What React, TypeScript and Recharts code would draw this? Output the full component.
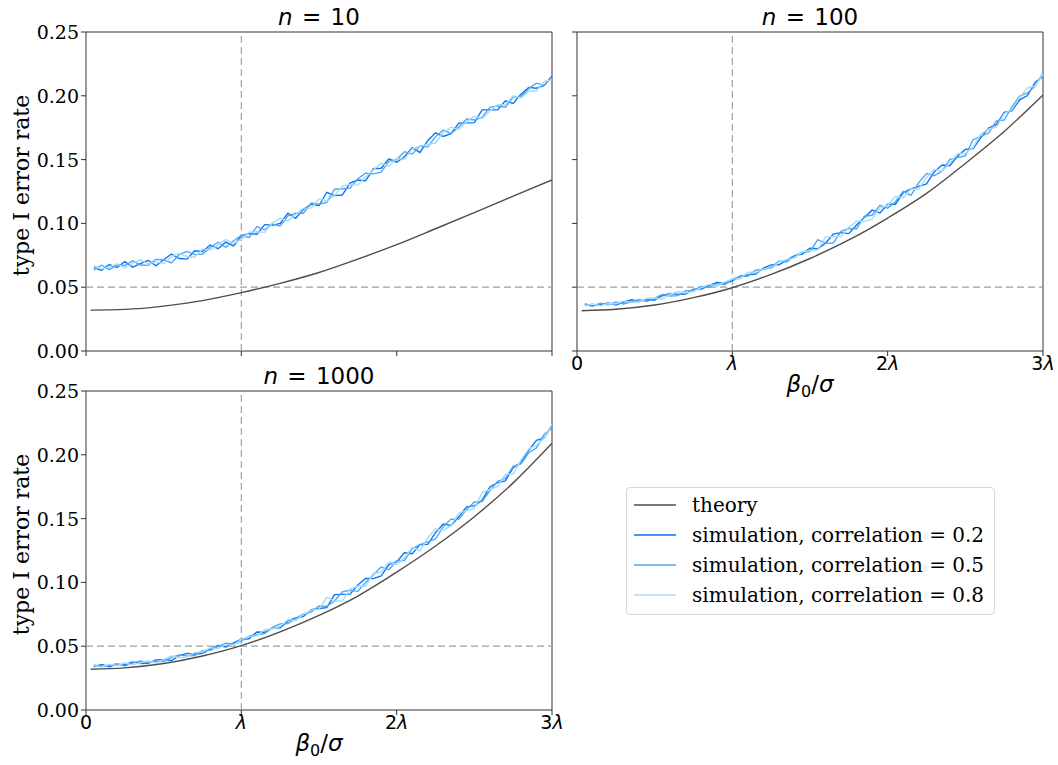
import React from "react";
import { LineChart, Line, XAxis, YAxis, ReferenceLine, ReferenceArea } from "recharts";

// x positions, in units of lambda
const SIM_X = [
  0.05, 0.1, 0.15, 0.2, 0.25, 0.3, 0.35, 0.4, 0.45, 0.5,
  0.55, 0.6, 0.65, 0.7, 0.75, 0.8, 0.85, 0.9, 0.95, 1,
  1.05, 1.1, 1.15, 1.2, 1.25, 1.3, 1.35, 1.4, 1.45, 1.5,
  1.55, 1.6, 1.65, 1.7, 1.75, 1.8, 1.85, 1.9, 1.95, 2,
  2.05, 2.1, 2.15, 2.2, 2.25, 2.3, 2.35, 2.4, 2.45, 2.5,
  2.55, 2.6, 2.65, 2.7, 2.75, 2.8, 2.85, 2.9, 2.95, 3,
];
const THEORY_X = [0.03, 0.25, 0.5, 0.75, 1, 1.25, 1.5, 1.75, 2, 2.25, 2.5, 2.75, 3];

const X_TICKS = [0, 1, 2, 3];
const X_TICK_LABELS = ["0", "λ", "2λ", "3λ"];
const Y_TICKS = [0, 0.05, 0.1, 0.15, 0.2, 0.25];

const SERIES_NAMES = [
  "theory",
  "simulation, correlation = 0.2",
  "simulation, correlation = 0.5",
  "simulation, correlation = 0.8",
];
const SERIES_COLORS = ["#4d4d4d", "#0b74f5", "#4ea8f6", "#a7dcf2"];

// n = 10
const theory10 = [0.032, 0.0326, 0.0352, 0.0395, 0.0457, 0.053, 0.0615, 0.072, 0.0833, 0.0958, 0.1085, 0.1213, 0.134];
const sim10_02 = [
  0.0656, 0.0632, 0.0678, 0.0654, 0.07, 0.0657, 0.0684, 0.0711, 0.0668, 0.0715,
  0.076, 0.0725, 0.072, 0.0785, 0.078, 0.0831, 0.0802, 0.0853, 0.0824, 0.0905,
  0.092, 0.0915, 0.099, 0.0985, 0.1, 0.108, 0.104, 0.111, 0.115, 0.114,
  0.1244, 0.1218, 0.1222, 0.1316, 0.134, 0.1334, 0.1428, 0.1432, 0.1506, 0.148,
  0.1522, 0.1594, 0.1556, 0.1648, 0.171, 0.1682, 0.1704, 0.1786, 0.1788, 0.179,
  0.189, 0.189, 0.189, 0.196, 0.194, 0.2013, 0.2066, 0.2059, 0.2082, 0.2155,
];
const sim10_05 = [
  0.0636, 0.0672, 0.0638, 0.0674, 0.067, 0.0707, 0.0674, 0.0671, 0.0718, 0.0715,
  0.069, 0.0755, 0.078, 0.0755, 0.076, 0.0811, 0.0852, 0.0813, 0.0864, 0.0905,
  0.089, 0.0975, 0.095, 0.0995, 0.098, 0.106, 0.108, 0.108, 0.116, 0.115,
  0.1164, 0.1268, 0.1272, 0.1276, 0.135, 0.1394, 0.1388, 0.1402, 0.1486, 0.15,
  0.1562, 0.1544, 0.1606, 0.1598, 0.168, 0.1732, 0.1704, 0.1756, 0.1818, 0.181,
  0.183, 0.191, 0.192, 0.191, 0.199, 0.1993, 0.2056, 0.2099, 0.2082, 0.2145,
];
const sim10_08 = [
  0.0666, 0.0642, 0.0658, 0.0684, 0.065, 0.0687, 0.0714, 0.0681, 0.0698, 0.0685,
  0.074, 0.0765, 0.074, 0.0735, 0.08, 0.0791, 0.0832, 0.0873, 0.0844, 0.0875,
  0.093, 0.0935, 0.093, 0.1005, 0.104, 0.102, 0.107, 0.112, 0.112, 0.119,
  0.1174, 0.1218, 0.1292, 0.1306, 0.13, 0.1364, 0.1418, 0.1472, 0.1446, 0.151,
  0.1502, 0.1584, 0.1606, 0.1618, 0.163, 0.1712, 0.1754, 0.1736, 0.1798, 0.184,
  0.182, 0.188, 0.193, 0.193, 0.2, 0.1983, 0.2036, 0.2039, 0.2112, 0.2125,
];

// n = 100
const theory100 = [0.0316, 0.0327, 0.036, 0.0418, 0.0496, 0.06, 0.0725, 0.087, 0.1042, 0.1235, 0.147, 0.172, 0.2006];
const sim100_02 = [
  0.0368, 0.0356, 0.0364, 0.0377, 0.036, 0.0383, 0.0401, 0.0389, 0.0402, 0.04,
  0.0433, 0.0451, 0.0444, 0.0447, 0.0485, 0.0486, 0.0512, 0.0538, 0.0529, 0.055,
  0.0586, 0.0597, 0.0603, 0.0649, 0.0675, 0.0676, 0.0712, 0.0748, 0.0759, 0.0805,
  0.0802, 0.0844, 0.0916, 0.0928, 0.092, 0.0988, 0.1046, 0.1104, 0.1082, 0.115,
  0.115, 0.124, 0.127, 0.129, 0.131, 0.1404, 0.1458, 0.1452, 0.1526, 0.158,
  0.1586, 0.1672, 0.1748, 0.1774, 0.187, 0.1884, 0.1968, 0.2002, 0.2106, 0.215,
];
const sim100_05 = [
  0.0363, 0.0351, 0.0374, 0.0362, 0.0385, 0.0368, 0.0386, 0.0404, 0.0387, 0.0415,
  0.0443, 0.0431, 0.0434, 0.0472, 0.0475, 0.0506, 0.0497, 0.0528, 0.0519, 0.0565,
  0.0581, 0.0587, 0.0633, 0.0639, 0.0655, 0.0706, 0.0697, 0.0743, 0.0774, 0.078,
  0.0872, 0.0844, 0.0846, 0.0938, 0.096, 0.0958, 0.1056, 0.1064, 0.1142, 0.112,
  0.117, 0.125, 0.122, 0.132, 0.139, 0.1374, 0.1408, 0.1502, 0.1516, 0.153,
  0.1656, 0.1682, 0.1708, 0.1804, 0.181, 0.1914, 0.1998, 0.2022, 0.2076, 0.218,
];
const sim100_08 = [
  0.0353, 0.0371, 0.0354, 0.0372, 0.037, 0.0393, 0.0381, 0.0384, 0.0412, 0.0415,
  0.0408, 0.0446, 0.0464, 0.0457, 0.0465, 0.0496, 0.0522, 0.0508, 0.0539, 0.0565,
  0.0566, 0.0617, 0.0613, 0.0644, 0.0645, 0.0696, 0.0717, 0.0728, 0.0779, 0.0785,
  0.0792, 0.0894, 0.0896, 0.0898, 0.097, 0.1018, 0.1016, 0.1034, 0.1122, 0.114,
  0.121, 0.12, 0.127, 0.127, 0.136, 0.1424, 0.1408, 0.1472, 0.1546, 0.155,
  0.1596, 0.1702, 0.1738, 0.1754, 0.186, 0.1894, 0.1988, 0.2062, 0.2076, 0.217,
];

// n = 1000
const theory1000 = [0.0319, 0.033, 0.0364, 0.0423, 0.0504, 0.0612, 0.0741, 0.0893, 0.108, 0.1285, 0.1515, 0.178, 0.209];
const sim1000_02 = [
  0.0338, 0.0356, 0.0339, 0.0357, 0.0355, 0.0377, 0.0364, 0.0366, 0.0393, 0.0395,
  0.0388, 0.0426, 0.0444, 0.0437, 0.0445, 0.0478, 0.0506, 0.0494, 0.0527, 0.0555,
  0.0558, 0.0611, 0.0609, 0.0642, 0.0645, 0.0698, 0.0721, 0.0734, 0.0787, 0.0795,
  0.0802, 0.0904, 0.0906, 0.0908, 0.098, 0.103, 0.103, 0.105, 0.114, 0.116,
  0.1232, 0.1224, 0.1296, 0.1298, 0.139, 0.1458, 0.1446, 0.1514, 0.1592, 0.16,
  0.1644, 0.1748, 0.1782, 0.1796, 0.19, 0.1938, 0.2036, 0.2114, 0.2132, 0.223,
];
const sim1000_05 = [
  0.0353, 0.0341, 0.0349, 0.0362, 0.0345, 0.0367, 0.0384, 0.0371, 0.0383, 0.038,
  0.0413, 0.0431, 0.0424, 0.0427, 0.0465, 0.0468, 0.0496, 0.0524, 0.0517, 0.054,
  0.0578, 0.0591, 0.0599, 0.0647, 0.0675, 0.0678, 0.0716, 0.0754, 0.0767, 0.0815,
  0.0812, 0.0854, 0.0926, 0.0938, 0.093, 0.1, 0.106, 0.112, 0.11, 0.117,
  0.1172, 0.1264, 0.1296, 0.1318, 0.134, 0.1438, 0.1496, 0.1494, 0.1572, 0.163,
  0.1634, 0.1718, 0.1792, 0.1816, 0.191, 0.1928, 0.2016, 0.2054, 0.2162, 0.221,
];
const sim1000_08 = [
  0.0348, 0.0336, 0.0359, 0.0347, 0.037, 0.0352, 0.0369, 0.0386, 0.0368, 0.0395,
  0.0423, 0.0411, 0.0414, 0.0452, 0.0455, 0.0488, 0.0481, 0.0514, 0.0507, 0.0555,
  0.0573, 0.0581, 0.0629, 0.0637, 0.0655, 0.0708, 0.0701, 0.0749, 0.0782, 0.079,
  0.0882, 0.0854, 0.0856, 0.0948, 0.097, 0.097, 0.107, 0.108, 0.116, 0.114,
  0.1192, 0.1274, 0.1246, 0.1348, 0.142, 0.1408, 0.1446, 0.1544, 0.1562, 0.158,
  0.1704, 0.1728, 0.1752, 0.1846, 0.185, 0.1958, 0.2046, 0.2074, 0.2132, 0.224,
];

const PLOT_W = 466;
const PLOT_H = 319;
const Y_AXIS_W = 86;
const TOP = 32;
const X_AXIS_H = 60;

const toPoints = (xs: number[], ys: number[]) => xs.map((x, i) => ({ x, y: ys[i] }));

const XTick = ({ x, y, payload, show }: any) => {
  if (!show) return <g />;
  const label = X_TICK_LABELS[X_TICKS.indexOf(payload.value)] ?? "";
  const hasLambda = label.endsWith("λ");
  const prefix = hasLambda ? label.slice(0, -1) : label;
  return (
    <text x={x} y={y + 12} textAnchor="middle" fontFamily="DejaVu Sans" fontSize={19} fill="#000">
      {prefix && <tspan>{prefix}</tspan>}
      {hasLambda && <tspan fontStyle="italic">λ</tspan>}
    </text>
  );
};

const YTick = ({ x, y, payload, show }: any) => {
  if (!show) return <g />;
  return (
    <text x={x} y={y + 7} textAnchor="end" fontFamily="DejaVu Serif" fontSize={19} fill="#000">
      {payload.value.toFixed(2)}
    </text>
  );
};

type PanelProps = {
  n: string;
  left: number;
  top: number;
  theory: number[];
  sims: number[][];
  showX: boolean;
  showY: boolean;
};

function Panel({ n, left, top, theory, sims, showX, showY }: PanelProps) {
  const width = Y_AXIS_W + PLOT_W + 20;
  const height = TOP + PLOT_H + X_AXIS_H;
  return (
    <div style={{ position: "absolute", left: left - Y_AXIS_W, top: top - TOP, width, height }}>
      <div
        style={{
          position: "absolute",
          left: Y_AXIS_W,
          width: PLOT_W,
          top: 4,
          textAlign: "center",
          fontFamily: "DejaVu Sans",
          fontSize: 23,
          lineHeight: "normal",
          wordSpacing: 2,
        }}
      >
        <i>n</i> = {n}
      </div>
      <LineChart width={width} height={height} margin={{ top: TOP, right: 20, bottom: 0, left: 0 }}>
        <XAxis
          type="number"
          dataKey="x"
          domain={[0, 3]}
          ticks={X_TICKS}
          allowDataOverflow
          height={X_AXIS_H}
          tickSize={5}
          tickMargin={2}
          axisLine={false}
          tickLine={{ stroke: "#333" }}
          tick={(p: any) => <XTick {...p} show={showX} />}
          label={
            showX
              ? {
                  content: (p: any) => {
                    const vb = p.viewBox || {};
                    const cx = (vb.x ?? Y_AXIS_W) + (vb.width ?? PLOT_W) / 2;
                    const by = (vb.y ?? TOP + PLOT_H) + 41;
                    return (
                      <text x={cx} y={by} textAnchor="middle" fontFamily="DejaVu Sans" fontSize={23} fill="#000">
                        <tspan fontStyle="italic">β</tspan>
                        <tspan fontSize={16} dy={5}>0</tspan>
                        <tspan dy={-5}>/</tspan>
                        <tspan fontStyle="italic">σ</tspan>
                      </text>
                    );
                  },
                }
              : undefined
          }
        />
        <YAxis
          type="number"
          domain={[0, 0.25]}
          ticks={Y_TICKS}
          allowDataOverflow
          width={Y_AXIS_W}
          tickSize={5}
          tickMargin={2}
          axisLine={false}
          tickLine={{ stroke: "#333" }}
          tick={(p: any) => <YTick {...p} show={showY} />}
          label={
            showY
              ? {
                  content: (p: any) => {
                    const vb = p.viewBox || {};
                    const cy = (vb.y ?? TOP) + (vb.height ?? PLOT_H) / 2 - 6;
                    return (
                      <text
                        x={0}
                        y={0}
                        transform={`translate(29, ${cy}) rotate(-90)`}
                        textAnchor="middle"
                        fontFamily="DejaVu Serif"
                        fontSize={22}
                        fill="#000"
                      >
                        type I error rate
                      </text>
                    );
                  },
                }
              : undefined
          }
        />
        <ReferenceLine x={1} stroke="#a0a0a0" strokeWidth={1.2} strokeDasharray="7 4" />
        <ReferenceLine y={0.05} stroke="#a0a0a0" strokeWidth={1.2} strokeDasharray="7 4" />
        <Line
          data={toPoints(THEORY_X, theory)}
          dataKey="y"
          type="monotone"
          stroke={SERIES_COLORS[0]}
          strokeWidth={1.4}
          dot={false}
          isAnimationActive={false}
        />
        {sims.map((s, i) => (
          <Line
            key={i}
            data={toPoints(SIM_X, s)}
            dataKey="y"
            type="linear"
            stroke={SERIES_COLORS[i + 1]}
            strokeWidth={1.4}
            dot={false}
            isAnimationActive={false}
          />
        ))}
        <ReferenceArea x1={0} x2={3} y1={0} y2={0.25} fill="none" stroke="#333" strokeWidth={1} ifOverflow="visible" />
      </LineChart>
    </div>
  );
}

function LegendBox() {
  return (
    <div
      style={{
        position: "absolute",
        left: 626,
        top: 487,
        width: 367,
        height: 124,
        border: "1px solid #d6d6d6",
        borderRadius: 4,
        background: "#fff",
        paddingTop: 2,
        boxSizing: "content-box",
      }}
    >
      {SERIES_NAMES.map((name, i) => (
        <div key={name} style={{ display: "flex", alignItems: "center", height: 30 }}>
          <svg width={42} height={4} style={{ marginLeft: 7, display: "block" }}>
            <line x1={0} y1={2} x2={42} y2={2} stroke={SERIES_COLORS[i]} strokeWidth={1.6} />
          </svg>
          <div style={{ marginLeft: 16, fontFamily: "DejaVu Serif", fontSize: 20, color: "#000", whiteSpace: "nowrap" }}>
            {name}
          </div>
        </div>
      ))}
    </div>
  );
}

export default function App() {
  return (
    <div
      style={{
        position: "absolute",
        left: 0,
        top: 0,
        width: 1058,
        height: 765,
        overflow: "hidden",
        background: "#fff",
      }}
    >
      <Panel n="10" left={86} top={32} theory={theory10} sims={[sim10_02, sim10_05, sim10_08]} showX={false} showY={true} />
      <Panel n="100" left={577} top={32} theory={theory100} sims={[sim100_02, sim100_05, sim100_08]} showX={true} showY={false} />
      <Panel n="1000" left={86} top={391} theory={theory1000} sims={[sim1000_02, sim1000_05, sim1000_08]} showX={true} showY={true} />
      <LegendBox />
    </div>
  );
}
